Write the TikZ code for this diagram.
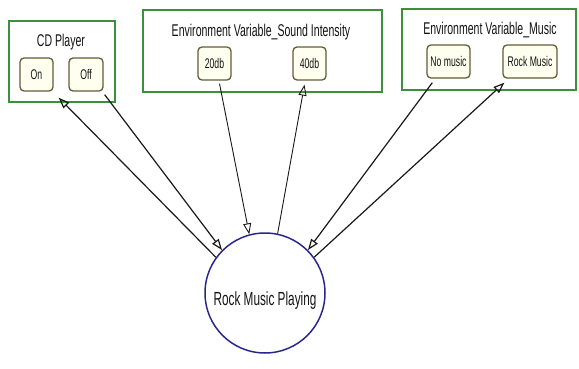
\documentclass[tikz,border=0pt]{standalone}
\usepackage{fontspec}
\setmainfont{Liberation Sans}[FakeStretch=0.62]
\usetikzlibrary{arrows.meta,calc}
\definecolor{boxgreen}{RGB}{58,145,58}
\definecolor{btnline}{RGB}{100,92,55}
\definecolor{btnfill}{RGB}{255,255,240}
\definecolor{ringblue}{RGB}{40,40,140}
\definecolor{ink}{RGB}{20,20,20}
\begin{document}
\begin{tikzpicture}[x=1pt,y=-1pt,
  panel/.style={draw=boxgreen,line width=2pt,fill=white,inner sep=0pt},
  button/.style={draw=btnline,line width=1.3pt,fill=btnfill,rounded corners=4pt,
    minimum height=33pt,inner sep=0pt,font=\fontsize{14}{16}\selectfont,text=ink},
  title/.style={font=\fontsize{17}{19}\selectfont,text=ink,inner sep=0pt},
  link/.style={draw=black!90,line width=1.2pt,-{Triangle[open,length=11pt,width=8pt]}},
  thinlink/.style={link,line width=0.9pt},
]
\useasboundingbox (0,0) rectangle (579,369);

% variable panels
\node[panel,minimum width=106pt,minimum height=81pt] (cdbox) at (62,61.5) {};
\node[panel,minimum width=239pt,minimum height=82pt] (soundbox) at (262.5,51) {};
\node[panel,minimum width=174pt,minimum height=81pt] (musicbox) at (489,49.5) {};

% panel titles
\node[title] (cdtitle) at (61,42) {CD Player};
\node[title] (soundtitle) at (261,32) {Environment Variable\_Sound Intensity};
\node[title] (musictitle) at (490,30) {Environment Variable\_Music};

% value buttons
\node[button,minimum width=33pt] (on) at (36.5,74.5) {On};
\node[button,minimum width=34pt] (off) at (86,74.5) {Off};
\node[button,minimum width=33pt] (db20) at (214.5,63.5) {20db};
\node[button,minimum width=33pt] (db40) at (309.5,63.5) {40db};
\node[button,minimum width=43pt] (nomusic) at (448.5,61.5) {No music};
\node[button,minimum width=54pt] (rockmusic) at (530,61.5) {Rock Music};

% state
\node[circle,draw=ringblue,line width=1.5pt,fill=white,minimum size=120pt,inner sep=0pt] (circ) at (265,293) {};
\node[font=\fontsize{19}{21}\selectfont,text=ink,inner sep=0pt] (statelabel) at (265,301) {Rock Music Playing};

% transitions
\draw[link] (circ.144) -- ($(on.south east)+(5,6)$);
\draw[link] ($(off.south east)+(1,3)$) -- (circ.135);
\draw[thinlink] ($(db20.south)+(5,3)$) -- (circ.105);
\draw[thinlink] (circ.78) -- ($(db40.south)+(-5,4)$);
\draw[link] ($(nomusic.south west)+(6,4)$) -- (circ.45);
\draw[link] (circ.36) -- ($(rockmusic.south west)+(2,4)$);
\end{tikzpicture}
\end{document}
